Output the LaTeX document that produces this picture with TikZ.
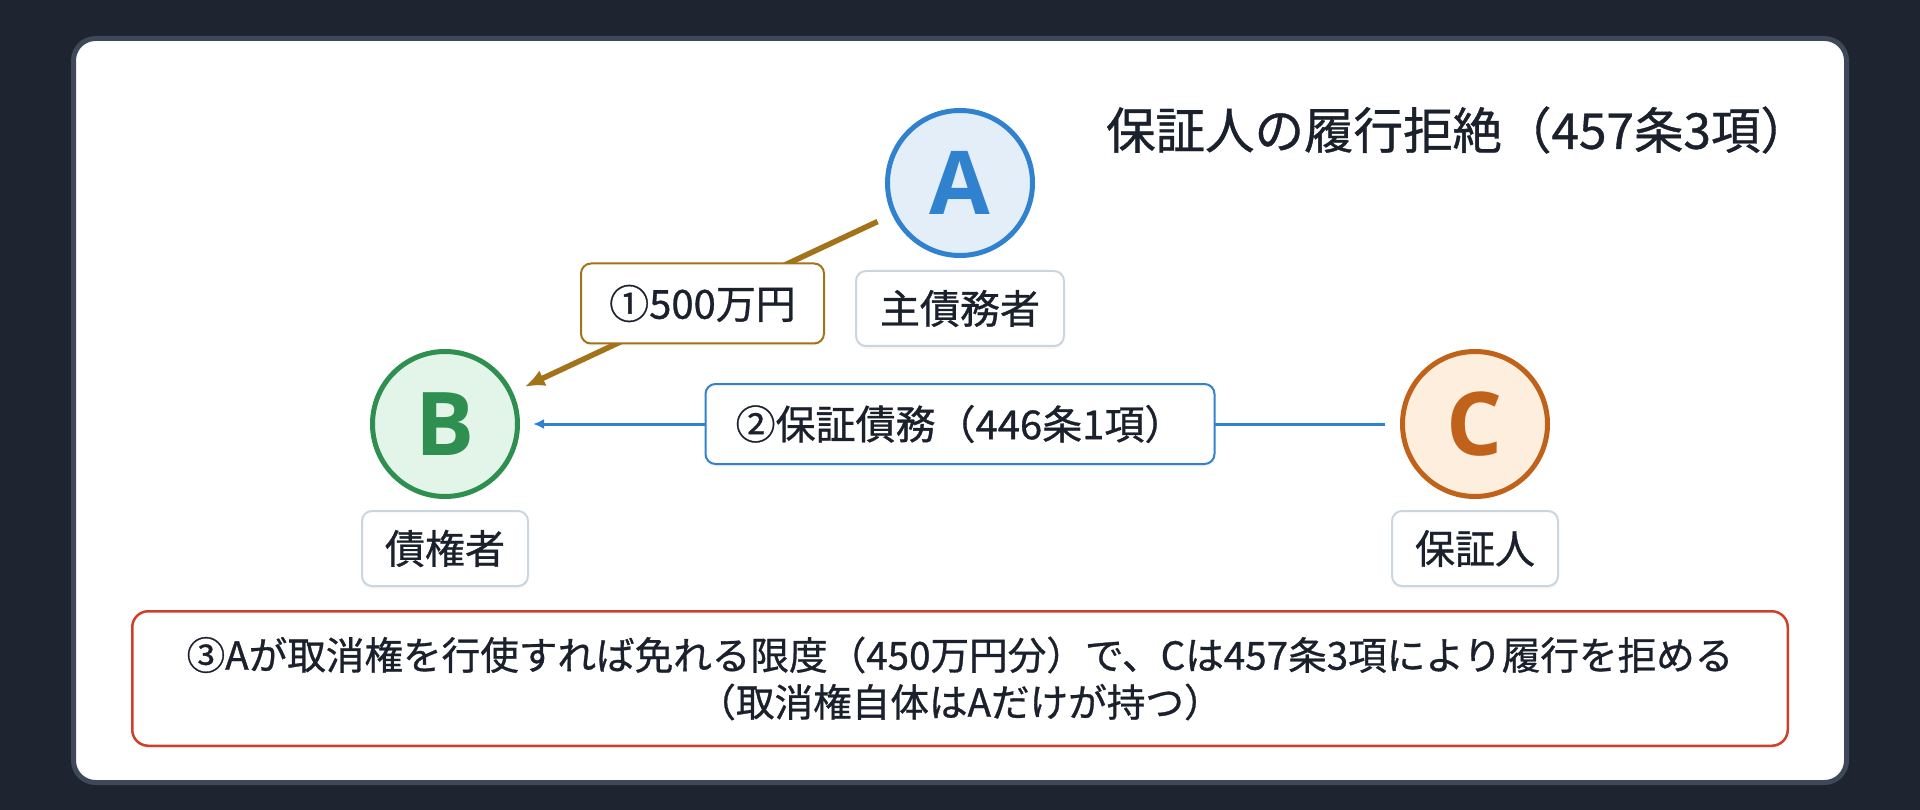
\documentclass[tikz,border=0pt]{standalone}
\usepackage{fontspec}
\setmainfont{Noto Sans CJK JP}[FakeBold=0.8]
\newfontfamily\letterfont{Open Sans}
\usetikzlibrary{arrows.meta,shadows}
\definecolor{bg}{HTML}{1E2530}
\definecolor{cardedge}{HTML}{3D4858}
\definecolor{ink}{HTML}{1A202C}
\definecolor{ablue}{HTML}{3182CE}
\definecolor{afill}{HTML}{E4EEF9}
\definecolor{bgreen}{HTML}{2F8F50}
\definecolor{bfill}{HTML}{E3F5E8}
\definecolor{corange}{HTML}{C0621A}
\definecolor{cfill}{HTML}{FDEEDE}
\definecolor{brownc}{HTML}{A3731A}
\definecolor{lblgray}{HTML}{CBD5E0}
\definecolor{notered}{HTML}{CF3F2B}
\begin{document}
\begin{tikzpicture}[x=1pt,y=-1pt,
  softshadow/.style={drop shadow={opacity=0.06, shadow xshift=0pt, shadow yshift=-3pt}},
  party/.style={circle, line width=5pt, minimum size=145pt, inner sep=0pt,
    font=\letterfont\fontsize{88}{88}\selectfont\bfseries, softshadow},
  rolebox/.style={draw=lblgray, line width=2pt, fill=white, rounded corners=10pt,
    minimum height=75pt, text=ink, font=\fontsize{40}{48}\selectfont, inner sep=0pt, softshadow},
  edgelbl/.style={line width=2pt, fill=white, rounded corners=10pt,
    minimum height=80pt, text=ink, font=\fontsize{40}{48}\selectfont, inner sep=0pt, softshadow},
  notebox/.style={draw=notered, line width=2.5pt, fill=white, rounded corners=16pt,
    minimum width=1655.5pt, minimum height=134.5pt, align=center, text=ink,
    font=\fontsize{38.6}{47}\selectfont, inner sep=0pt, softshadow},
  titletext/.style={text=ink, font=\fontsize{49.5}{58}\selectfont, inner sep=0pt}
]
\useasboundingbox (0,0) rectangle (1920,810);
\fill[bg] (0,0) rectangle (1920,810);
\draw[cardedge, line width=5pt, fill=white, rounded corners=22pt] (73.5,38.5) rectangle (1846.5,782.5);

\node[titletext] (title) at (1458,130) {保証人の履行拒絶（457条3項）};

\node[party, draw=ablue, fill=afill, text=ablue] (A) at (960,183) {A};
\node[party, draw=bgreen, fill=bfill, text=bgreen] (B) at (445,424) {B};
\node[party, draw=corange, fill=cfill, text=corange] (C) at (1475,424) {C};

\node[rolebox, minimum width=208pt] (rA) at (960,308.5) {主債務者};
\node[rolebox, minimum width=166pt] (rB) at (445,548.5) {債権者};
\node[rolebox, minimum width=166pt] (rC) at (1475,548.5) {保証人};

\draw[brownc, line width=5.5pt, -{Latex[length=20pt,width=17pt]}, shorten <=16pt, shorten >=13pt]
  (A) -- (B) node[midway, edgelbl, draw=brownc, minimum width=243pt] (l1) {①500万円};
\draw[ablue, line width=3pt, -{Latex[length=11pt,width=10pt]}, shorten <=15pt, shorten >=13pt]
  (C) -- (B) node[midway, edgelbl, draw=ablue, minimum width=509pt] (l2) {②保証債務（446条1項）};

\node[notebox] (note) at (960,678.5) {③Aが取消権を行使すれば免れる限度（450万円分）で、Cは457条3項により履行を拒める\\（取消権自体はAだけが持つ）};
\end{tikzpicture}
\end{document}
